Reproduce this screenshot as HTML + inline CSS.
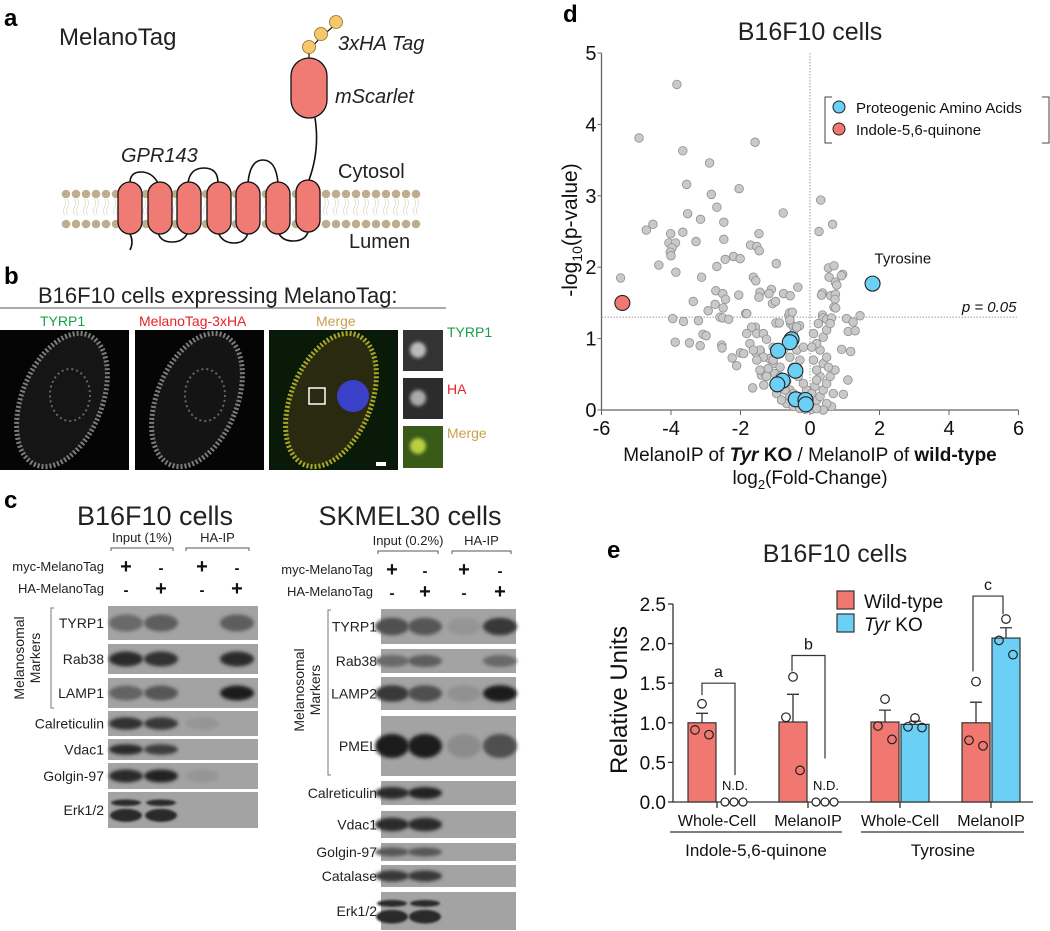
<!DOCTYPE html>
<html><head><meta charset="utf-8">
<style>
html,body{margin:0;padding:0;background:#fff;}
svg{display:block;font-family:"Liberation Sans",Arial,sans-serif;}
</style></head>
<body>
<svg id="fig" width="1050" height="931" viewBox="0 0 1050 931" xmlns="http://www.w3.org/2000/svg">
<defs>
  <filter id="blur2" x="-50%" y="-50%" width="200%" height="200%"><feGaussianBlur stdDeviation="1.8"/></filter>
  <filter id="blur1" x="-50%" y="-50%" width="200%" height="200%"><feGaussianBlur stdDeviation="1"/></filter>
</defs>

<!-- ================= PANEL A ================= -->
<g>
  <text x="4" y="26" font-size="24" font-weight="bold">a</text>
  <text x="59" y="45" font-size="24" fill="#222">MelanoTag</text>
  <g id="membrane"></g>
  <g fill="none" stroke="#111" stroke-width="1.6">
    <path d="M130 183 Q130 172 141 172 Q152 172 158 183"/>
    <path d="M188 183 Q190 168 204 168 Q218 168 218 183"/>
    <path d="M248 183 Q250 160 263 160 Q276 160 278 183"/>
    <path d="M158 232 Q160 242 172 242 Q184 242 188 232"/>
    <path d="M218 232 Q222 243 234 243 Q246 243 248 232"/>
    <path d="M278 232 Q282 241 293 241 Q305 241 308 232"/>
    <path d="M130 234 Q134 242 130 250"/>
    <path d="M309 180 Q320 150 315 118"/>
  </g>
  <g id="tm"></g>
  <rect x="291" y="58" width="36" height="60" rx="18" fill="#f07b74" stroke="#111" stroke-width="1.3"/>
  <path d="M309 58 L309 50 L321 37 L336 24" stroke="#111" stroke-width="1.2" fill="none"/>
  <circle cx="309" cy="47" r="6.5" fill="#f7c86a" stroke="#8a6a20" stroke-width="0.8"/>
  <circle cx="321" cy="34" r="6.5" fill="#f7c86a" stroke="#8a6a20" stroke-width="0.8"/>
  <circle cx="336" cy="22" r="6.5" fill="#f7c86a" stroke="#8a6a20" stroke-width="0.8"/>
  <text x="338" y="50" font-size="20" font-style="italic" fill="#222">3xHA Tag</text>
  <text x="335" y="103" font-size="20" font-style="italic" fill="#222">mScarlet</text>
  <text x="121" y="162" font-size="20" font-style="italic" fill="#222">GPR143</text>
  <text x="338" y="178" font-size="20" fill="#222">Cytosol</text>
  <text x="349" y="248" font-size="20" fill="#222">Lumen</text>
</g>

<!-- ================= PANEL B ================= -->
<g>
  <text x="4" y="284" font-size="24" font-weight="bold">b</text>
  <text x="38" y="303" font-size="22" fill="#222">B16F10 cells expressing MelanoTag:</text>
  <line x1="0" y1="308" x2="446" y2="308" stroke="#555" stroke-width="1"/>
  <text x="40" y="326" font-size="14" fill="#1aa04a">TYRP1</text>
  <text x="139" y="326" font-size="14" fill="#e8202a">MelanoTag-3xHA</text>
  <text x="316" y="326" font-size="14" fill="#c8a050">Merge</text>
  <g>
    <rect x="0" y="330" width="129" height="140" fill="#050505"/>
    <ellipse cx="62" cy="400" rx="40" ry="70" transform="rotate(22 62 400)" fill="#1a1a1a" stroke="#9a9a9a" stroke-width="5" stroke-dasharray="2 2" opacity="0.8"/>
    <ellipse cx="70" cy="395" rx="20" ry="26" fill="none" stroke="#666" stroke-width="2" stroke-dasharray="2 3"/>
  </g>
  <g>
    <rect x="135" y="330" width="129" height="140" fill="#050505"/>
    <ellipse cx="197" cy="400" rx="40" ry="70" transform="rotate(22 197 400)" fill="#181818" stroke="#9a9a9a" stroke-width="5" stroke-dasharray="2 2" opacity="0.8"/>
    <ellipse cx="205" cy="395" rx="20" ry="26" fill="none" stroke="#666" stroke-width="2" stroke-dasharray="2 3"/>
  </g>
  <g>
    <rect x="269" y="330" width="129" height="140" fill="#0a1a08"/>
    <ellipse cx="331" cy="400" rx="40" ry="70" transform="rotate(22 331 400)" fill="#2a2a10" stroke="#a8a828" stroke-width="5" stroke-dasharray="2 2"/>
    <circle cx="353" cy="396" r="16" fill="#3a40c8"/>
    <rect x="309" y="388" width="16" height="16" fill="none" stroke="#fff" stroke-width="1.5"/>
    <rect x="376" y="462" width="10" height="4" fill="#fff"/>
  </g>
  <rect x="403" y="330" width="40" height="41" fill="#333"/>
  <rect x="403" y="378" width="40" height="41" fill="#2c2c2c"/>
  <rect x="403" y="426" width="40" height="42" fill="#3a5a18"/>
  <circle cx="418" cy="350" r="8" fill="#bbb" filter="url(#blur2)"/>
  <circle cx="418" cy="398" r="8" fill="#aaa" filter="url(#blur2)"/>
  <circle cx="418" cy="446" r="8" fill="#b8d040" filter="url(#blur2)"/>
  <text x="447" y="337" font-size="14" fill="#1aa04a">TYRP1</text>
  <text x="447" y="394" font-size="14" fill="#e8202a">HA</text>
  <text x="447" y="438" font-size="14" fill="#c8a050">Merge</text>
</g>

<!-- ================= PANEL C ================= -->
<g id="panelC">
  <text x="4" y="508" font-size="24" font-weight="bold">c</text>
  <text x="155" y="525" font-size="27" text-anchor="middle" fill="#222">B16F10 cells</text>
  <text x="410" y="525" font-size="27" text-anchor="middle" fill="#222">SKMEL30 cells</text>
</g>

<!-- ================= PANEL D ================= -->
<g id="panelD">
  <text x="563" y="22" font-size="24" font-weight="bold">d</text>
  <text x="810" y="40" font-size="25" text-anchor="middle" fill="#222">B16F10 cells</text>
</g>

<!-- ================= PANEL E ================= -->
<g id="panelE">
  <text x="607" y="558" font-size="24" font-weight="bold">e</text>
  <text x="835" y="562" font-size="25" text-anchor="middle" fill="#222">B16F10 cells</text>
</g>
</svg>

<script>
// ---------- Panel D data ----------
const grayX = [-3.83,-4.92,-1.58,-3.66,-2.89,-3.55,-2.04,-2.84,-2.68,0.31,-0.77,-3.52,-3.15,-2.48,-4.52,-4.71,0.65,0.26,-4.01,-3.66,-1.47,-3.28,-2.48,-4.06,-3.87,-3.97,-4.02,-4.0,-1.71,-1.53,-1.46,-2.20,-2.01,-2.44,-0.97,-4.35,-2.68,0.53,0.69,-3.86,-3.12,-5.45,-1.63,-1.56,0.55,0.94,0.90,0.73,0.77,-0.35,-1.11,-1.18,-2.71,-2.51,-2.43,-2.05,-1.44,-1.47,-0.76,-0.57,0.36,0.33,0.60,0.73,0.72,0.69,0.74,-3.36,-2.73,-2.50,-2.93,-1.08,-0.99,-1.85,-0.61,-0.59,-0.51,-2.59,-2.51,-2.34,-3.95,-3.64,-3.21,0.36,0.38,0.48,0.62,1.05,1.24,1.44,1.10,1.30,-0.98,-0.88,-0.56,-0.48,-0.30,-0.40,-1.57,-3.08,-2.99,-3.88,-3.47,-3.16,-2.54,-2.53,-2.24,-2.11,-2.0,-1.91,-1.65,-1.33,-1.4,-1.28,-1.43,-1.55,0.96,1.09,0.91,1.17,
-1.82,-1.68,-1.53,-1.34,-1.25,-1.44,-1.17,-1.06,-1.20,-1.01,-0.86,-0.67,-0.58,-0.48,-0.29,-0.67,-0.48,-0.29,-0.10,0.10,0.19,0.29,0.38,0.48,0.29,0.19,0.38,0.48,0.29,0.19,0.38,0.48,0.58,0.24,0.10,0.05,0.10,0.14,-0.10,-0.19,-0.34,-0.29,-0.38,-0.48,-0.58,-0.38,-0.19,-0.96,-0.82,-1.06,-0.86,-1.34,-1.53,-1.73,-1.82,-1.63,0.67,0.62,0.48,0.38,-0.14,0.05,0.19,0.58,0.72,0.53,0.19,0.05,-0.05,-0.24,-0.58,-0.72,-0.86,-0.48,-0.58,-0.77,-1.06,-1.25,-1.44];
const grayY = [4.56,3.81,3.75,3.63,3.46,3.16,3.10,3.02,2.84,2.94,2.76,2.75,2.67,2.63,2.60,2.52,2.60,2.50,2.47,2.49,2.47,2.36,2.39,2.34,2.34,2.27,2.21,2.16,2.31,2.29,2.23,2.15,2.12,2.11,2.05,2.03,2.01,1.99,2.02,1.93,1.86,1.85,1.86,1.81,1.86,1.90,1.88,1.79,1.75,1.72,1.69,1.63,1.67,1.63,1.55,1.61,1.65,1.58,1.63,1.60,1.64,1.61,1.60,1.62,1.55,1.44,1.43,1.52,1.48,1.43,1.39,1.49,1.52,1.35,1.32,1.36,1.37,1.30,1.29,1.27,1.28,1.24,1.25,1.33,1.29,1.27,1.29,1.28,1.23,1.32,1.10,1.11,1.22,1.22,1.21,1.17,1.18,1.15,1.16,1.06,1.04,0.95,0.94,0.90,0.91,0.87,0.73,0.62,0.80,0.79,0.31,0.35,0.49,0.50,0.83,0.80,0.22,0.42,0.85,0.82,
1.35,1.16,1.07,1.07,0.99,0.84,0.72,0.65,0.58,0.51,0.47,0.40,0.28,0.23,0.19,0.09,0.05,0.02,0.05,0.07,0.14,0.19,0.28,0.37,0.47,0.56,0.65,0.74,0.84,0.93,1.02,1.12,1.21,1.21,1.07,0.88,0.70,0.33,0.28,0.37,0.47,0.70,0.84,1.07,1.26,1.16,0.88,0.23,0.14,0.70,0.60,0.74,0.70,0.93,1.07,0.84,0.23,0.05,0.09,0.0,0.01,0.01,0.02,0.47,0.56,0.60,0.42,0.23,0.16,0.12,0.19,0.28,0.37,0.60,0.74,0.84,0.88,0.47,0.56];
const aaX = [1.80,-0.53,-0.58,-0.92,-0.42,-0.79,-0.94,-0.41,-0.13,-0.12];
const aaY = [1.77,0.99,0.95,0.83,0.55,0.41,0.36,0.15,0.14,0.08];
const iqX = [-5.40];
const iqY = [1.50];
const xTicks = [-6,-4,-2,0,2,4,6];
const yTicks = [0,1,2,3,4,5];

// ---------- Panel E data ----------
const eCategories = ["Whole-Cell","MelanoIP","Whole-Cell","MelanoIP"];
const eGroups = ["Indole-5,6-quinone","Tyrosine"];
const wtMean = [1.00,1.01,1.01,1.00];
const wtErr = [0.12,0.35,0.15,0.26];
const koMean = [0,0,0.98,2.07];
const koErr = [0,0,0.04,0.13];
const koDetected = [false,false,true,true];
const wtPoints = [[1.24,0.91,0.85],[1.58,1.07,0.40],[1.30,0.96,0.79],[1.52,0.78,0.71]];
const koPoints = [[0,0,0],[0,0,0],[1.06,0.95,0.94],[2.31,2.04,1.86]];
const eTicks = [0,0.5,1.0,1.5,2.0,2.5];
const sigLabels = ["a","b","c"];

const NS = "http://www.w3.org/2000/svg";
function mk(tag, attrs, parent){ const e=document.createElementNS(NS,tag); for(const k in attrs) e.setAttribute(k,attrs[k]); (parent||document.getElementById('fig')).appendChild(e); return e; }

// ---------- Panel A membrane ----------
(function(){
  const g=document.getElementById('membrane');
  for(let x=66;x<=420;x+=10){
    const t=mk('circle',{cx:x,cy:194,r:4.3,fill:'#bfae8e'},g);
    
    
    const b=mk('circle',{cx:x,cy:224,r:4.3,fill:'#bfae8e'},g);
    
    
    mk('path',{d:`M${x-1.5} 199 q2 4 0 8 q-2 4 0 8 M${x+1.5} 199 q2 4 0 8 q-2 4 0 8`,stroke:'#d8cfbf','stroke-width':0.6,fill:'none'},g);
  }
  const h=document.getElementById('tm');
  [118,148,177,207,236,266,296].forEach((x,i)=>{
    const r=mk('rect',{x:x,y:i==6?180:182,width:24,height:52,rx:12,fill:'#f07b74',stroke:'#111','stroke-width':1.3},h);
    
    
  });
})();

// ---------- Panel C blots ----------
(function(){
  const P=document.getElementById('panelC');
  function hdr(lanes, inputLbl, inputX, haX, y0, lblX){
    let t=mk('text',{x:(inputX[0]+inputX[1])/2,y:y0,'font-size':13,'text-anchor':'middle',fill:'#222'},P); t.textContent=inputLbl;
     
    t=mk('text',{x:(haX[0]+haX[1])/2,y:y0,'font-size':13,'text-anchor':'middle',fill:'#222'},P); t.textContent='HA-IP';
     
    [inputX,haX].forEach(r=>mk('path',{d:`M${r[0]} ${y0+9} v-3 H${r[1]} v3`,stroke:'#555',fill:'none','stroke-width':1},P));
    t=mk('text',{x:lblX,y:y0+29,'font-size':13,'text-anchor':'end',fill:'#222'},P); t.textContent='myc-MelanoTag';
     
    t=mk('text',{x:lblX,y:y0+51,'font-size':13,'text-anchor':'end',fill:'#222'},P); t.textContent='HA-MelanoTag';
     
    const myc=['+','-','+','-'], ha=['-','+','-','+'];
    lanes.forEach((x,i)=>{
      let a=mk('text',{x:x,y:y0+31,'font-size':myc[i]=='+'?20:15,'font-weight':'bold','text-anchor':'middle',fill:'#111'},P); a.textContent=myc[i];
       
      a=mk('text',{x:x,y:y0+53,'font-size':ha[i]=='+'?20:15,'font-weight':'bold','text-anchor':'middle',fill:'#111'},P); a.textContent=ha[i];
       
    });
  }
  function blots(rows, lanes, x0, x1, lblX){
    rows.forEach(r=>{
      const [name,y,h,ints,dbl]=r;
      const bg=mk('rect',{x:x0,y:y,width:x1-x0,height:h,fill:'#a3a3a3'},P);
      
      
      const t=mk('text',{x:lblX,y:y+h/2+5,'font-size':14,'text-anchor':'end',fill:'#222'},P); t.textContent=name;
       
      lanes.forEach((lx,i)=>{
        const v=ints[i]; if(v<=0) return;
        const c=Math.round(155-v*125);
        const col=`rgb(${c},${c},${c})`;
        if(dbl){
          mk('ellipse',{cx:lx,cy:y+h*0.3,rx:15,ry:h*0.09,fill:col,filter:'url(#blur1)'},P);
          mk('ellipse',{cx:lx,cy:y+h*0.65,rx:16,ry:h*0.18,fill:col,filter:'url(#blur1)'},P);
        } else {
          mk('ellipse',{cx:lx,cy:y+h/2,rx:17,ry:Math.min(h*0.25,12),fill:col,filter:'url(#blur2)'},P);
        }
      });
    });
  }
  hdr([126,161,202,237],'Input (1%)',[111,173],[186,249],542,104);
  blots([
    ['TYRP1',606,34,[0.4,0.5,0,0.5]],
    ['Rab38',644,30,[0.9,0.85,0,0.9]],
    ['LAMP1',678,30,[0.45,0.55,0,1]],
    ['Calreticulin',711,25,[0.85,0.8,0.05,0]],
    ['Vdac1',739,21,[0.9,0.75,0,0]],
    ['Golgin-97',763,26,[0.9,0.95,0.05,0]],
    ['Erk1/2',792,36,[0.9,0.9,0,0],true]
  ],[126,161,202,237],108,258,104);
  hdr([392,425,464,500],'Input (0.2%)',[378,438],[452,511],545,373);
  blots([
    ['TYRP1',609,35,[0.6,0.55,0.05,0.8]],
    ['Rab38',649,24,[0.4,0.5,0,0.4]],
    ['LAMP2',677,33,[0.8,0.6,0.08,1]],
    ['PMEL',716,60,[1,1,0.12,0.6]],
    ['Calreticulin',781,24,[0.9,0.95,0,0]],
    ['Vdac1',811,27,[0.9,0.9,0,0]],
    ['Golgin-97',843,18,[0.55,0.55,0,0]],
    ['Catalase',865,22,[0.8,0.8,0,0]],
    ['Erk1/2',892,38,[0.9,0.9,0,0],true]
  ],[392,425,464,500],381,516,377);
  [[24,658,51,608,708],[304,690,328,610,775]].forEach(b=>{
    mk('path',{d:`M${b[2]+3} ${b[3]} H${b[2]} V${b[4]} H${b[2]+3}`,stroke:'#777',fill:'none','stroke-width':1},P);
    const t=mk('text',{x:b[0],y:b[1],'font-size':14,'text-anchor':'middle',fill:'#222',transform:`rotate(-90 ${b[0]} ${b[1]})`},P);
     
    const s1=mk('tspan',{x:b[0],dy:0},t); s1.textContent='Melanosomal';
    const s2=mk('tspan',{x:b[0],dy:16},t); s2.textContent='Markers';
  });
})();

// ---------- Panel D volcano ----------
(function(){
  const P=document.getElementById('panelD');
  const X=v=>810+v*34.75, Y=v=>410-v*71.4;
  const ax=mk('path',{d:`M${X(-6)} ${Y(5)} V${Y(0)} H${X(6)}`,stroke:'#666',fill:'none','stroke-width':1.3},P);
   
  xTicks.forEach(v=>{
    mk('line',{x1:X(v),x2:X(v),y1:Y(0),y2:Y(0)+5,stroke:'#666'},P);
    const t=mk('text',{x:X(v),y:Y(0)+25,'font-size':20,'text-anchor':'middle',fill:'#111'},P); t.textContent=v;
     
  });
  yTicks.forEach(v=>{
    mk('line',{x1:X(-6)-4,x2:X(-6),y1:Y(v),y2:Y(v),stroke:'#666'},P);
    const t=mk('text',{x:X(-6)-5,y:Y(v)+7,'font-size':20,'text-anchor':'end',fill:'#111'},P); t.textContent=v;
     
  });
  const vl=mk('line',{x1:X(0),x2:X(0),y1:Y(5),y2:Y(0),stroke:'#999','stroke-dasharray':'1.5 1.5'},P);
   
  const hl=mk('line',{x1:X(-6),x2:X(6),y1:Y(1.3),y2:Y(1.3),stroke:'#999','stroke-dasharray':'1.5 1.5'},P);
   
  let t=mk('text',{x:X(6)-2,y:Y(1.3)-5,'font-size':15,'font-style':'italic','text-anchor':'end',fill:'#111'},P); t.textContent='p = 0.05';
   
  grayX.forEach((v,i)=>{
    const c=mk('circle',{cx:X(v),cy:Y(grayY[i]),r:4.3,fill:'#c9c9c9',stroke:'#8e8e8e','stroke-width':0.8},P);
     
  });
  aaX.forEach((v,i)=>{
    const c=mk('circle',{cx:X(v),cy:Y(aaY[i]),r:7.5,fill:'#6ccff5',stroke:'#222','stroke-width':1.1},P);
     
  });
  iqX.forEach((v,i)=>{
    const c=mk('circle',{cx:X(v),cy:Y(iqY[i]),r:7.5,fill:'#f07870',stroke:'#222','stroke-width':1.1},P);
     
  });
  t=mk('text',{x:X(aaX[0])+2,y:Y(aaY[0])-20,'font-size':15,fill:'#111'},P); t.textContent='Tyrosine';
   
  const L=mk('g',{},P);  
  mk('path',{d:'M832 97 H825 V143 H832 M1042 97 H1049 V143 H1042',stroke:'#444',fill:'none','stroke-width':1},L);
  mk('circle',{cx:839,cy:107,r:6,fill:'#6ccff5',stroke:'#222','stroke-width':1},L);
  mk('circle',{cx:839,cy:129,r:6,fill:'#f07870',stroke:'#222','stroke-width':1},L);
  t=mk('text',{x:856,y:113,'font-size':15,fill:'#111'},L); t.textContent='Proteogenic Amino Acids';
   
  t=mk('text',{x:856,y:135,'font-size':15,fill:'#111'},L); t.textContent='Indole-5,6-quinone';
   
  t=mk('text',{x:577,y:230,'font-size':21,'text-anchor':'middle',fill:'#111',transform:'rotate(-90 577 230)'},P);
   
  t.innerHTML='-log<tspan font-size="14" dy="5">10</tspan><tspan dy="-5">(p-value)</tspan>';
  t=mk('text',{x:810,y:461,'font-size':19,'text-anchor':'middle',fill:'#111'},P);
   
  t.innerHTML='MelanoIP of <tspan font-weight="bold" font-style="italic">Tyr</tspan><tspan font-weight="bold"> KO</tspan> / MelanoIP of <tspan font-weight="bold">wild-type</tspan>';
  t=mk('text',{x:810,y:484,'font-size':19,'text-anchor':'middle',fill:'#111'},P);
   
  t.innerHTML='log<tspan font-size="13" dy="5">2</tspan><tspan dy="-5">(Fold-Change)</tspan>';
})();

// ---------- Panel E bar chart ----------
(function(){
  const P=document.getElementById('panelE');
  const Y=v=>802-v*79.2;
  const centers=[717,808,900,991];
  const bw=28;
  mk('path',{d:`M673 ${Y(2.5)} V${Y(0)} H1033`,stroke:'#333',fill:'none','stroke-width':1.3},P);
  eTicks.forEach(v=>{
    mk('line',{x1:668,x2:673,y1:Y(v),y2:Y(v),stroke:'#333','stroke-width':1.3},P);
    const t=mk('text',{x:666,y:Y(v)+7,'font-size':19,'text-anchor':'end',fill:'#111'},P); t.textContent=v.toFixed(1);
     
  });
  let t=mk('text',{x:627,y:700,'font-size':24,'text-anchor':'middle',fill:'#111',transform:'rotate(-90 627 700)'},P); t.textContent='Relative Units';
   
  centers.forEach((c,i)=>{
    mk('line',{x1:c,x2:c,y1:Y(0),y2:Y(0)+6,stroke:'#333','stroke-width':1.3},P);
    const wx=c-bw-1, kx=c+1;
    const b=mk('rect',{x:wx,y:Y(wtMean[i]),width:bw,height:Y(0)-Y(wtMean[i]),fill:'#f07870',stroke:'#333','stroke-width':1.2},P);
     
    mk('path',{d:`M${wx+bw/2} ${Y(wtMean[i])} V${Y(wtMean[i]+wtErr[i])} M${wx+bw/2-6} ${Y(wtMean[i]+wtErr[i])} h12`,stroke:'#333','stroke-width':1.3},P);
    wtPoints[i].forEach((v,j)=>{
      const p=mk('circle',{cx:wx+bw/2+[0,-7,7][j],cy:Y(v),r:4.3,fill:'none',stroke:'#222','stroke-width':1.2},P);
       
    });
    if(koDetected[i]){
      const k=mk('rect',{x:kx,y:Y(koMean[i]),width:bw,height:Y(0)-Y(koMean[i]),fill:'#6ccff5',stroke:'#333','stroke-width':1.2},P);
       
      mk('path',{d:`M${kx+bw/2} ${Y(koMean[i])} V${Y(koMean[i]+koErr[i])} M${kx+bw/2-6} ${Y(koMean[i]+koErr[i])} h12`,stroke:'#333','stroke-width':1.3},P);
      koPoints[i].forEach((v,j)=>{
        const p=mk('circle',{cx:kx+bw/2+[0,-7,7][j],cy:Y(v),r:4.3,fill:'none',stroke:'#222','stroke-width':1.2},P);
         
      });
    } else {
      koPoints[i].forEach((v,j)=>{
        const p=mk('circle',{cx:kx+7+j*9,cy:Y(v),r:4,fill:'#fff',stroke:'#222','stroke-width':1.2},P);
         
      });
      const n=mk('text',{x:kx+17,y:Y(0)-12,'font-size':13,'text-anchor':'middle',fill:'#111'},P); n.textContent='N.D.';
       
    }
    const l=mk('text',{x:c,y:826,'font-size':16,'text-anchor':'middle',fill:'#111'},P); l.textContent=eCategories[i];
     
  });
  [[670,842,756],[861,1024,943]].forEach((g,i)=>{
    mk('line',{x1:g[0],x2:g[1],y1:832,y2:832,stroke:'#333','stroke-width':1.2},P);
    const t=mk('text',{x:g[2],y:856,'font-size':17,'text-anchor':'middle',fill:'#111'},P); t.textContent=eGroups[i];
     
  });
  const br=[[702,735,1.5,1.35,0.34],[792,825,1.85,1.65,0.55],[973,1003,2.6,1.65,2.37]];
  br.forEach((b,i)=>{
    const p=mk('path',{d:`M${b[0]} ${Y(b[3])} V${Y(b[2])} H${b[1]} V${Y(b[4])}`,stroke:'#333',fill:'none','stroke-width':1.2},P);
     
    const t=mk('text',{x:(b[0]+b[1])/2,y:Y(b[2])-6,'font-size':16,'text-anchor':'middle',fill:'#111'},P); t.textContent=sigLabels[i];
     
  });
  const L=mk('g',{},P);  
  mk('rect',{x:837,y:591,width:17,height:18,fill:'#f07870',stroke:'#333','stroke-width':1.2},L);
  mk('rect',{x:837,y:614,width:17,height:18,fill:'#6ccff5',stroke:'#333','stroke-width':1.2},L);
  t=mk('text',{x:864,y:608,'font-size':19,fill:'#111'},L); t.textContent='Wild-type';
   
  t=mk('text',{x:864,y:631,'font-size':19,fill:'#111'},L);
   
  t.innerHTML='<tspan font-style="italic">Tyr</tspan> KO';
})();
</script>
</body></html>
